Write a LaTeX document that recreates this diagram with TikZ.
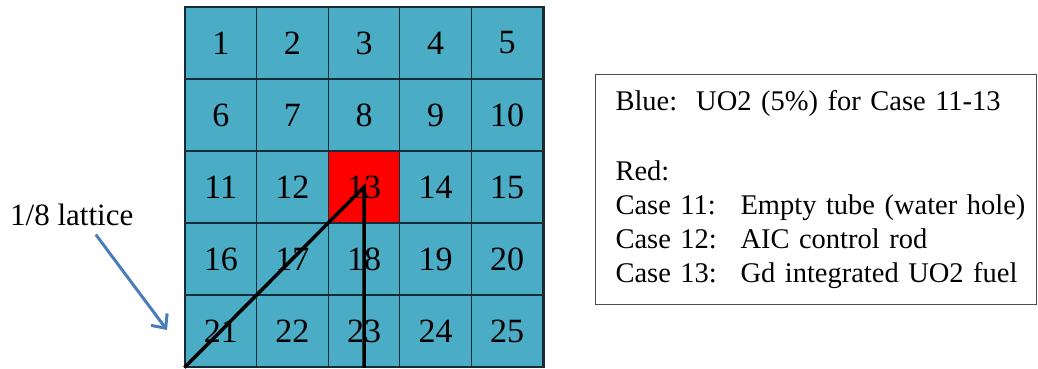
\documentclass[tikz,border=0pt]{standalone}
\usepackage{fontspec}
\setmainfont{Liberation Serif}
\usepackage{xcolor}
\usepackage{tikz}
\usetikzlibrary{arrows.meta, positioning, calc}
\definecolor{latblue}{RGB}{75, 172, 198}
\definecolor{arrowblue}{RGB}{74, 126, 187}
\definecolor{gridline}{RGB}{20, 45, 55}

\begin{document}
\begin{tikzpicture}[x=1pt, y=1pt,
    cell/.style={draw=gridline, line width=1.2pt, minimum width=71.6pt, minimum height=72pt,
        inner sep=0pt, font=\fontsize{34}{34}\selectfont},
    pinline/.style={line width=3.5pt, black},
    legendbox/.style={draw=black!70, line width=1pt, text width=401pt, inner xsep=20pt,
        inner ysep=16pt, align=left, font=\fontsize{28.5}{34}\selectfont}]
    \useasboundingbox (0,0) rectangle (1038,368);

    % Lattice cells 1..25, cell 13 in red
    \foreach \r in {0,...,4} {
        \foreach \c in {1,...,5} {
            \pgfmathtruncatemacro\n{5*\r+\c}
            \ifnum\n=13 \def\fc{red}\else\def\fc{latblue}\fi
            \node[cell, fill=\fc] (c\n) at ({185+71.6*(\c-0.5)}, {361-72*(\r+0.5)}) {\n};
        }
    }
    \draw[line width=2.5pt, gridline] (c5.north east) -- (c25.south east);

    % 1/8 symmetry lines
    \draw[pinline] (c21.south west) -- (c13.center) -- (c23.south);

    % Label and arrow
    \node[anchor=base west, font=\fontsize{31}{31}\selectfont, inner sep=0pt] (lbl) at (10,143) {1/8 lattice};
    \coordinate (tip) at (167,38);
    \draw[arrowblue, line width=3pt, -{Straight Barb[length=11pt, width=20pt]}] ([xshift=24pt, yshift=-9pt]lbl.south) -- (tip);

    % Legend
    \node[legendbox, anchor=north west] (legend) at (595,294) {%
        \mbox{Blue:\ \ UO2 (5\%) for Case 11-13}\\[36pt]
        Red:\\
        \mbox{\makebox[125pt][l]{Case 11:}Empty tube (water hole)}\\
        \mbox{\makebox[125pt][l]{Case 12:}AIC control rod}\\
        \mbox{\makebox[125pt][l]{Case 13:}Gd integrated UO2 fuel}};
\end{tikzpicture}
\end{document}
